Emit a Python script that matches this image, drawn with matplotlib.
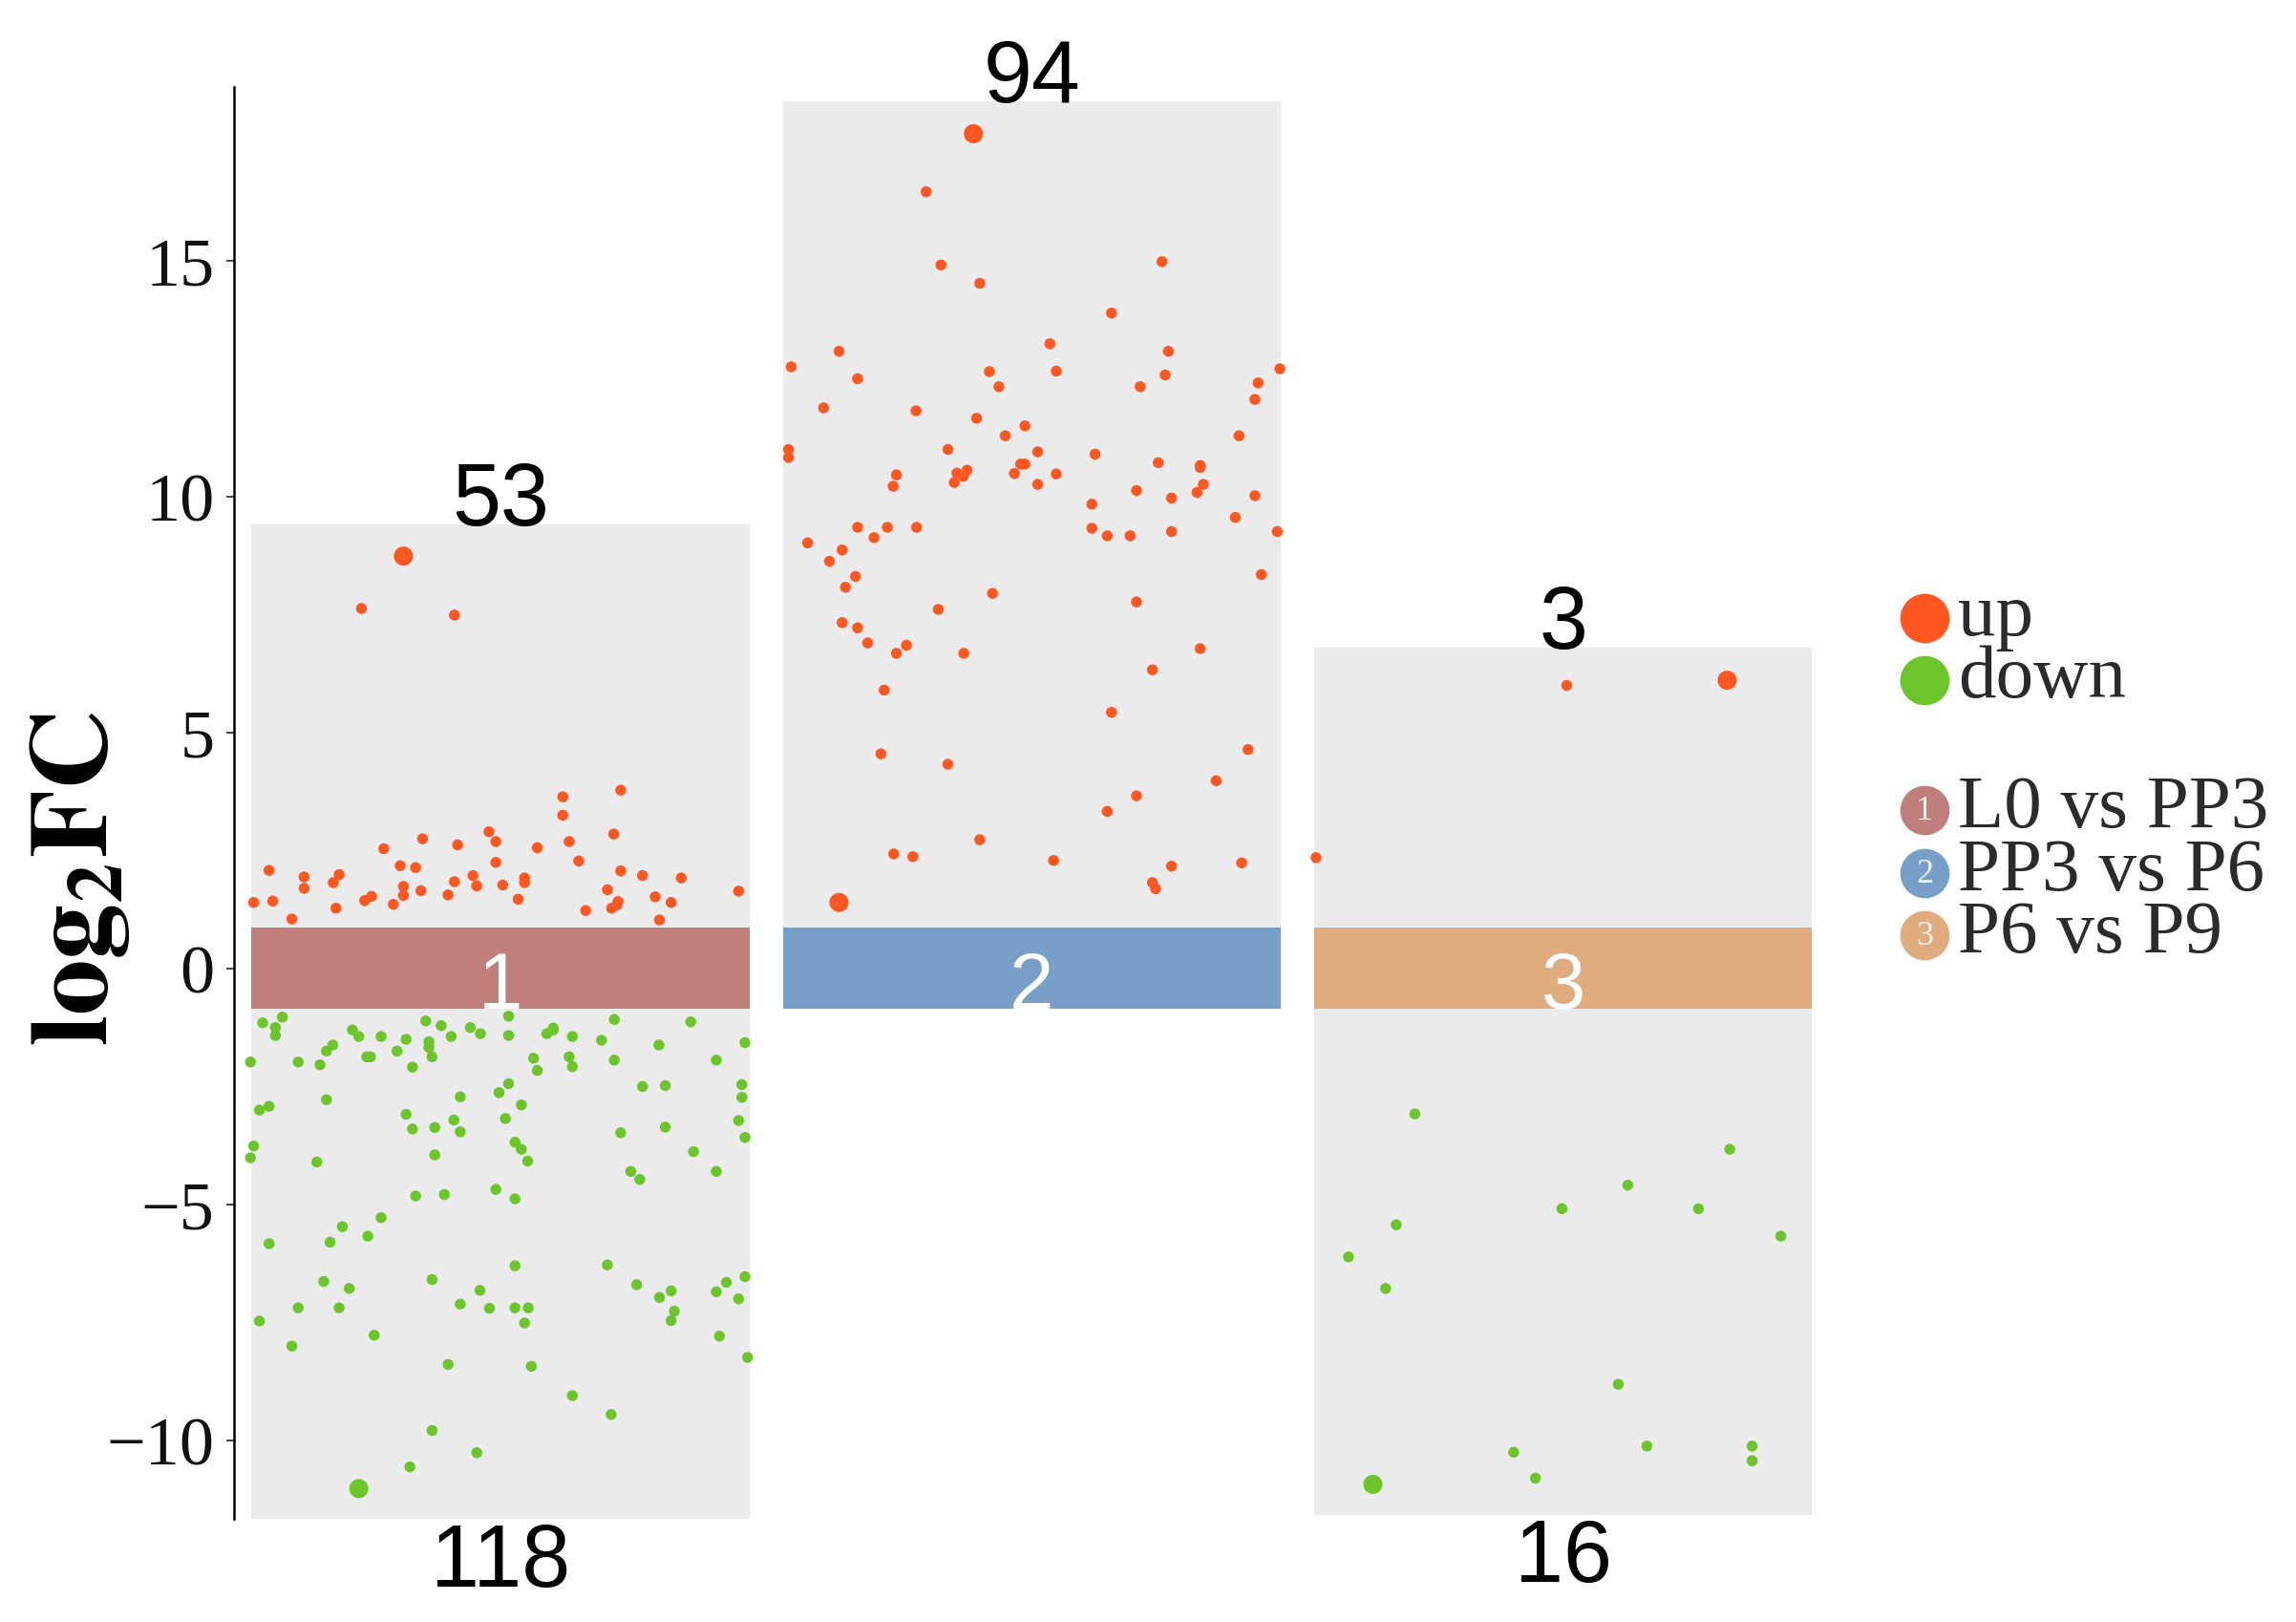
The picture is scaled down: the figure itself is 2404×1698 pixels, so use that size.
import matplotlib.pyplot as plt
import numpy as np
from matplotlib.patches import Rectangle

plt.rcParams['mathtext.fontset'] = 'stix'

groups = ['L0 vs PP3', 'PP3 vs P6', 'P6 vs P9']
group_colors = ['#C17F7B', '#779FC7', '#DFAC7F']
up_color = '#FF5722'
down_color = '#6CC62B'
n_up = [53, 94, 3]
n_down = [118, 0, 16]

# jitter offset (in group units) and log2FC of each gene
g1_up_x = [-0.183, -0.262, -0.087, 0.117, 0.226, 0.117, 0.213, -0.022, -0.009, 0.129,
           -0.147, -0.081, -0.220, 0.069, 0.147, -0.009, -0.189, -0.160, -0.436, -0.370,
           -0.304, -0.315, -0.370, -0.052, -0.045, -0.087, 0.045, 0.045, 0.004, 0.226,
           0.267, 0.340, -0.183, -0.183, -0.150, -0.465, -0.429, -0.393, -0.310, -0.256,
           -0.243, -0.202, -0.099, 0.033, 0.201, 0.221, 0.209, 0.160, 0.291, 0.321,
           0.299, 0.448, 0.219]
g1_up_y = [8.74, 7.63, 7.49, 3.64, 3.78, 3.25, 2.85, 2.90, 2.69, 2.69,
           2.75, 2.62, 2.54, 2.56, 2.28, 2.25, 2.18, 2.14, 2.08, 1.94,
           1.99, 1.82, 1.70, 1.97, 1.75, 1.84, 1.92, 1.82, 1.77, 2.07,
           1.97, 1.92, 1.74, 1.55, 1.65, 1.40, 1.43, 1.05, 1.28, 1.44,
           1.53, 1.36, 1.56, 1.47, 1.67, 1.42, 1.28, 1.23, 1.52, 1.40,
           1.03, 1.64, 1.35]

g1_dn_x = [-0.267, -0.448, -0.411, -0.424, -0.424, -0.471, -0.381, -0.340, -0.328, -0.316,
           -0.279, -0.267, -0.225, -0.252, -0.245, -0.195, -0.178, -0.166, -0.141, -0.112,
           -0.093, -0.135, -0.129, -0.057, -0.038, 0.015, 0.015, 0.087, 0.099, 0.135,
           0.190, 0.214, 0.214, 0.062, 0.069, 0.129, 0.135, 0.298, 0.358, 0.406,
           0.460, 0.454, 0.454, 0.448, 0.460, 0.267, 0.310, 0.310, 0.226, 0.363,
           0.406, 0.245, 0.262, 0.015, -0.003, 0.039, 0.009, -0.076, -0.088, -0.076,
           -0.124, -0.166, -0.178, -0.124, 0.027, 0.039, 0.051, -0.328, -0.454, -0.436,
           -0.465, -0.471, -0.346, -0.160, -0.106, -0.009, 0.027, -0.225, -0.298, -0.250,
           -0.321, -0.436, 0.027, 0.201, -0.333, -0.285, -0.381, -0.304, -0.454, -0.393,
           -0.238, -0.129, -0.076, -0.039, -0.021, 0.027, 0.052, 0.045, -0.099, 0.058,
           0.135, 0.208, -0.129, -0.045, -0.171, 0.256, 0.299, 0.321, 0.327, 0.321,
           0.406, 0.425, 0.460, 0.448, 0.412, 0.465, -0.135, 0.099]
g1_dn_y = [-11.02, -1.15, -1.03, -1.25, -1.42, -1.98, -1.98, -2.04, -1.75, -1.62,
           -1.30, -1.44, -1.44, -1.87, -1.87, -1.75, -1.50, -2.09, -1.11, -1.21,
           -1.44, -1.67, -1.87, -1.25, -1.38, -1.01, -1.42, -1.38, -1.26, -1.44,
           -1.52, -1.08, -1.94, -1.90, -2.16, -1.87, -2.08, -1.62, -1.13, -1.94,
           -1.57, -2.46, -2.73, -3.22, -3.58, -2.50, -2.48, -3.36, -3.48, -3.88,
           -4.30, -4.30, -4.47, -2.44, -2.63, -2.89, -3.18, -2.72, -3.21, -3.46,
           -3.37, -3.40, -3.09, -3.95, -3.68, -3.83, -4.08, -2.78, -3.00, -2.92,
           -3.76, -4.01, -4.10, -4.82, -4.79, -4.68, -4.88, -5.28, -5.47, -5.67,
           -5.80, -5.83, -6.30, -6.28, -6.63, -6.78, -7.19, -7.19, -7.47, -8.00,
           -7.77, -6.59, -7.11, -6.82, -7.20, -7.19, -7.19, -7.51, -8.39, -8.43,
           -9.05, -9.45, -9.79, -10.26, -10.56, -6.70, -6.97, -6.83, -7.26, -7.46,
           -6.85, -6.65, -6.53, -7.00, -7.79, -8.24, -1.55, -1.30]

g2_up_x = [-0.110, -0.363, -0.199, -0.171, -0.098, 0.245, 0.150, 0.034, 0.257, -0.453,
           -0.363, -0.328, -0.080, -0.062, 0.046, 0.251, 0.204, 0.467, 0.426, 0.420,
           -0.392, -0.218, -0.104, -0.013, -0.050, 0.390, -0.458, -0.458, -0.158, 0.011,
           0.119, -0.021, -0.013, -0.033, 0.046, 0.011, 0.238, 0.317, -0.255, -0.261,
           -0.122, -0.129, -0.146, 0.197, 0.263, 0.323, 0.311, 0.420, 0.113, 0.113,
           0.142, 0.185, 0.263, 0.462, 0.383, 0.432, -0.422, -0.328, -0.272, -0.217,
           -0.297, -0.357, -0.381, -0.332, -0.351, -0.074, -0.176, 0.197, -0.357, -0.328,
           -0.309, -0.236, -0.255, -0.128, 0.317, 0.227, -0.278, 0.150, -0.284, -0.158,
           0.407, 0.347, 0.197, 0.142, -0.098, -0.260, -0.224, 0.041, 0.263, 0.395,
           0.227, 0.233, 0.317, -0.141]
g2_up_y = [17.69, 1.40, 16.46, 14.91, 14.52, 14.98, 13.89, 13.24, 13.08, 12.75,
           13.08, 12.50, 12.65, 12.33, 12.66, 12.58, 12.33, 12.71, 12.41, 12.06,
           11.88, 11.82, 11.66, 11.50, 11.29, 11.29, 11.00, 10.83, 11.00, 10.95,
           10.90, 10.69, 10.69, 10.49, 10.48, 10.26, 10.72, 10.66, 10.46, 10.22,
           10.56, 10.43, 10.30, 10.13, 9.97, 10.26, 10.09, 10.02, 9.84, 9.33,
           9.17, 9.17, 9.26, 9.26, 9.56, 8.35, 9.02, 9.35, 9.35, 9.35,
           9.13, 8.87, 8.63, 8.31, 8.08, 7.95, 7.61, 7.77, 7.33, 7.22,
           6.90, 6.85, 6.68, 6.68, 6.78, 6.33, 5.90, 5.43, 4.55, 4.33,
           4.64, 3.98, 3.66, 3.33, 2.73, 2.43, 2.37, 2.29, 2.17, 2.24,
           1.82, 1.69, 10.62, 10.50]

g3_up_x = [0.309, 0.007, -0.465]
g3_up_y = [6.11, 6.00, 2.35]
g3_dn_x = [-0.358, -0.279, 0.314, 0.122, -0.002, 0.255, -0.314, 0.410, -0.404, -0.334,
           0.104, 0.158, 0.356, 0.356, -0.093, -0.052]
g3_dn_y = [-10.93, -3.08, -3.83, -4.59, -5.09, -5.09, -5.43, -5.67, -6.11, -6.78,
           -8.81, -10.12, -10.12, -10.43, -10.25, -10.80]

up_x = [g1_up_x, g2_up_x, g3_up_x]
up_y = [g1_up_y, g2_up_y, g3_up_y]
dn_x = [g1_dn_x, [], g3_dn_x]
dn_y = [g1_dn_y, [], g3_dn_y]
# highlighted top genes (indices)
top_up = [[0], [0, 1], [0]]
top_dn = [[0], [], [0]]

fig = plt.figure(figsize=(12.02, 8.495), dpi=200)
ax = fig.add_axes([0.1019, 0.0636, 0.6876, 0.8822])
ax.set_xlim(0.498, 3.47)
ax.set_ylim(-11.66, 18.68)

half = 0.469
band = 0.86
for i in range(3):
    c = i + 1
    ux = c + np.array(up_x[i])
    uy = np.array(up_y[i])
    top = uy.max() + 0.68
    if len(dn_y[i]):
        dx = c + np.array(dn_x[i])
        dy = np.array(dn_y[i])
        bottom = dy.min() - 0.65
    else:
        bottom = 0
    ax.add_patch(Rectangle((c - half, bottom), 2 * half, top - bottom,
                           facecolor='#EBEBEB', lw=0, zorder=0))
    ax.add_patch(Rectangle((c - half, -band), 2 * half, 2 * band,
                           facecolor=group_colors[i], lw=0, zorder=1))
    ax.text(c, -0.38, str(c), color='white', ha='center', va='center',
            fontsize=30, family='Liberation Sans', zorder=4)

    s = np.full(len(uy), 17.0)
    s[top_up[i]] = 52
    ax.scatter(ux, uy, s=s, color=up_color, lw=0, zorder=3)
    ax.text(c, top, str(n_up[i]), ha='center', va='baseline',
            fontsize=33, family='Liberation Sans')
    if len(dn_y[i]):
        s = np.full(len(dy), 17.0)
        s[top_dn[i]] = 52
        ax.scatter(dx, dy, s=s, color=down_color, lw=0, zorder=3)
        ax.text(c, bottom - 0.05, str(n_down[i]), ha='center', va='top',
                fontsize=33, family='Liberation Sans')

for side in ['top', 'right', 'bottom']:
    ax.spines[side].set_visible(False)
ax.spines['left'].set_linewidth(0.9)
ax.set_xticks([])
ax.set_yticks([-10, -5, 0, 5, 10, 15])
ax.tick_params(axis='y', length=2.9, width=0.7, color='#444444', labelsize=26,
               pad=4.5, labelcolor='#111111', labelfontfamily='Liberation Serif')
ax.patch.set_visible(False)

fig.text(0.0333, 0.4585, r'$\mathbf{log_2FC}$', rotation=90, ha='center',
         va='center', fontsize=42)

# legend, laid out in pixel coordinates
lg = fig.add_axes([0, 0, 1, 1])
lg.set_xlim(0, 2404)
lg.set_ylim(1699, 0)
lg.axis('off')
legend_items = [('up', up_color, None, 648), ('down', down_color, None, 713)]
for k, g in enumerate(groups):
    legend_items.append((g, group_colors[k], str(k + 1), 849 + 65.5 * k))
for label, col, num, yy in legend_items:
    lg.scatter([2015], [yy], s=346, color=col, lw=0)
    if num:
        lg.text(2015, yy + 1, num, color='white', alpha=0.85, ha='center',
                va='center', fontsize=13, family='Liberation Serif')
    lg.text(2050, yy + 17, label, color='#2b2b2b', ha='left', va='baseline',
            fontsize=28.5, family='Liberation Serif')

fig.savefig('out.png', dpi=200)
